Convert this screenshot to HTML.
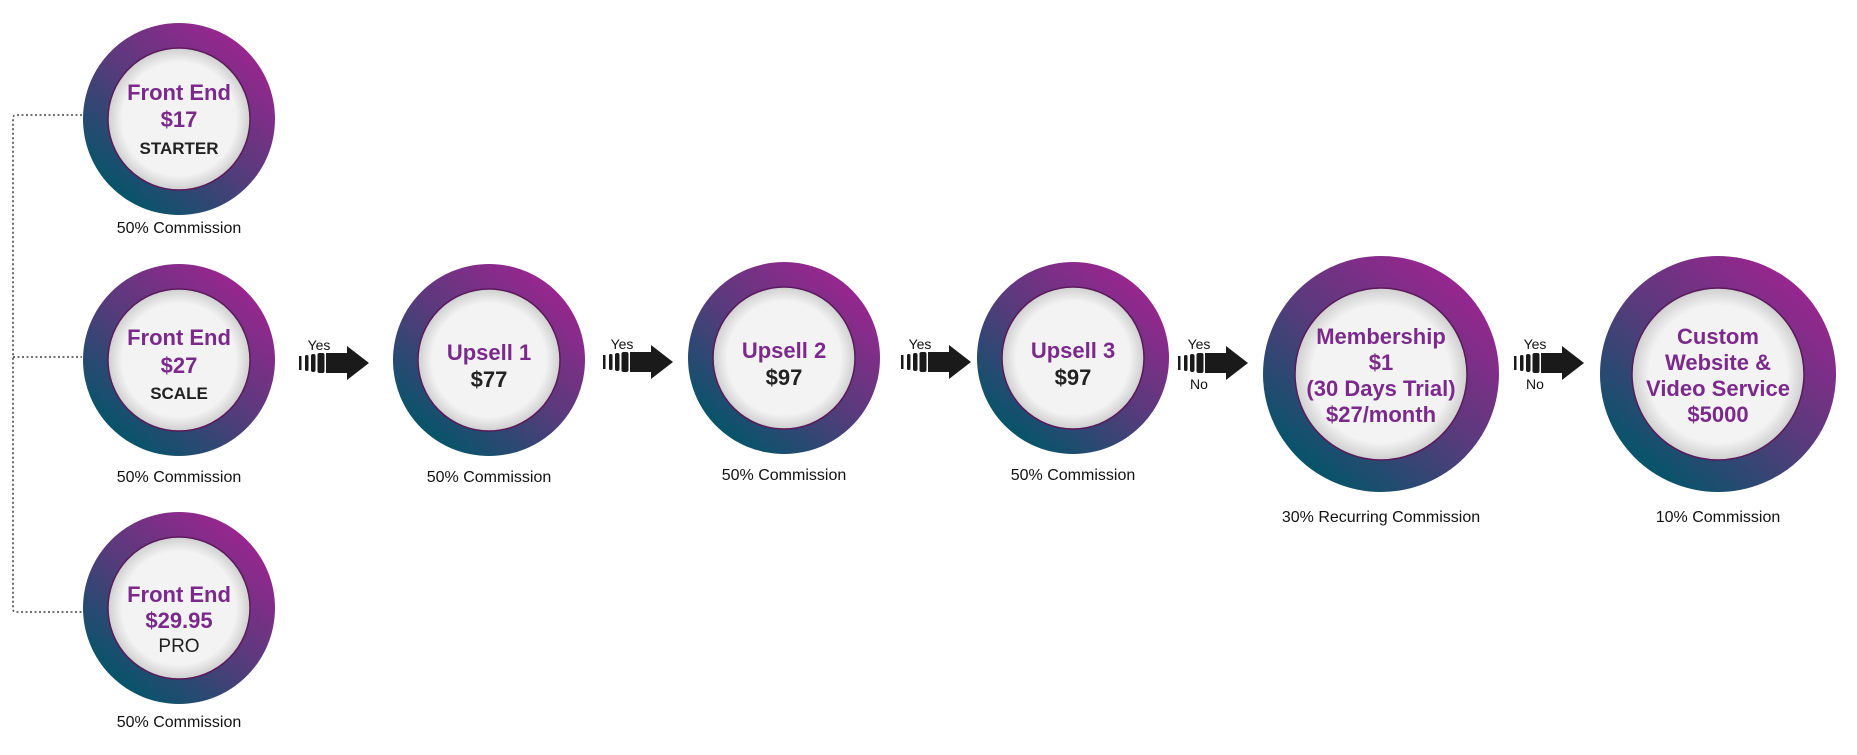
<!DOCTYPE html>
<html><head><meta charset="utf-8"><style>
html,body{margin:0;padding:0;background:#fff;}
svg{display:block;}
text{font-family:"Liberation Sans",sans-serif;text-anchor:middle;}
.t{fill:#7b2a8c;font-weight:bold;font-size:22px;}
.k{fill:#222;font-weight:bold;font-size:17px;}
.d{fill:#222;font-weight:bold;font-size:22px;}
.c{fill:#111;font-size:16px;}
.y{fill:#111;font-size:14px;}
</style></head><body>
<svg width="1857" height="755" viewBox="0 0 1857 755" xmlns="http://www.w3.org/2000/svg">
<defs>
<linearGradient id="g" x1="0.85" y1="0.1" x2="0.2" y2="0.9">
<stop offset="0" stop-color="#9b2590"/><stop offset="0.5" stop-color="#5a3a7c"/><stop offset="1" stop-color="#07546a"/>
</linearGradient>
<radialGradient id="w" cx="0.5" cy="0.5" r="0.5">
<stop offset="0.8" stop-color="#f3f3f3"/><stop offset="1" stop-color="#cfcfcf"/>
</radialGradient>
<g id="arr">
<rect x="0" y="-7" width="2.5" height="14" fill="#1a1a1a"/>
<rect x="6" y="-8" width="3.5" height="16" rx="1.5" fill="#1a1a1a"/>
<rect x="12" y="-9" width="4.5" height="18" rx="2" fill="#1a1a1a"/>
<rect x="18.5" y="-10" width="7" height="20" rx="2" fill="#1a1a1a"/>
<polygon points="27,-10 48,-10 48,-17 70,0 48,17 48,10 27,10" fill="#1a1a1a"/>
</g>
</defs>
<path d="M82 115 H16 Q13 115 13 118 V609 Q13 612 16 612 H82 M13 357 H82" fill="none" stroke="#444" stroke-width="1.6" stroke-dasharray="2,2.5"/>

<circle cx="179" cy="119" r="96" fill="url(#g)"/><circle cx="179" cy="119" r="71" fill="url(#w)" stroke="#5a1a5a" stroke-width="1.5"/>
<text class="t" x="179" y="100">Front End</text><text class="t" x="179" y="127">$17</text><text class="k" x="179" y="154">STARTER</text>
<text class="c" x="179" y="233">50% Commission</text>

<circle cx="179" cy="360" r="96" fill="url(#g)"/><circle cx="179" cy="360" r="71" fill="url(#w)" stroke="#5a1a5a" stroke-width="1.5"/>
<text class="t" x="179" y="345">Front End</text><text class="t" x="179" y="373">$27</text><text class="k" x="179" y="399">SCALE</text>
<text class="c" x="179" y="482">50% Commission</text>

<circle cx="179" cy="608" r="96" fill="url(#g)"/><circle cx="179" cy="608" r="71" fill="url(#w)" stroke="#5a1a5a" stroke-width="1.5"/>
<text class="t" x="179" y="602">Front End</text><text class="t" x="179" y="628">$29.95</text><text class="k" x="179" y="652" style="font-weight:normal;font-size:19px">PRO</text>
<text class="c" x="179" y="727">50% Commission</text>

<circle cx="489" cy="360" r="96" fill="url(#g)"/><circle cx="489" cy="360" r="71" fill="url(#w)" stroke="#5a1a5a" stroke-width="1.5"/>
<text class="t" x="489" y="360">Upsell 1</text><text class="d" x="489" y="387">$77</text>
<text class="c" x="489" y="482">50% Commission</text>

<circle cx="784" cy="358" r="96" fill="url(#g)"/><circle cx="784" cy="358" r="71" fill="url(#w)" stroke="#5a1a5a" stroke-width="1.5"/>
<text class="t" x="784" y="358">Upsell 2</text><text class="d" x="784" y="385">$97</text>
<text class="c" x="784" y="480">50% Commission</text>

<circle cx="1073" cy="358" r="96" fill="url(#g)"/><circle cx="1073" cy="358" r="71" fill="url(#w)" stroke="#5a1a5a" stroke-width="1.5"/>
<text class="t" x="1073" y="358">Upsell 3</text><text class="d" x="1073" y="385">$97</text>
<text class="c" x="1073" y="480">50% Commission</text>

<circle cx="1381" cy="374" r="118" fill="url(#g)"/><circle cx="1381" cy="374" r="86" fill="url(#w)" stroke="#5a1a5a" stroke-width="1.5"/>
<text class="t" x="1381" y="344">Membership</text><text class="t" x="1381" y="370">$1</text><text class="t" x="1381" y="396">(30 Days Trial)</text><text class="t" x="1381" y="422">$27/month</text>
<text class="c" x="1381" y="522">30% Recurring Commission</text>

<circle cx="1718" cy="374" r="118" fill="url(#g)"/><circle cx="1718" cy="374" r="86" fill="url(#w)" stroke="#5a1a5a" stroke-width="1.5"/>
<text class="t" x="1718" y="344">Custom</text><text class="t" x="1718" y="370">Website &amp;</text><text class="t" x="1718" y="396">Video Service</text><text class="t" x="1718" y="422">$5000</text>
<text class="c" x="1718" y="522">10% Commission</text>

<use href="#arr" x="299" y="363"/><text class="y" x="319" y="350">Yes</text>
<use href="#arr" x="603" y="362"/><text class="y" x="622" y="349">Yes</text>
<use href="#arr" x="901" y="362"/><text class="y" x="920" y="349">Yes</text>
<use href="#arr" x="1178" y="363"/><text class="y" x="1199" y="349">Yes</text><text class="y" x="1199" y="389">No</text>
<use href="#arr" x="1514" y="363"/><text class="y" x="1535" y="349">Yes</text><text class="y" x="1535" y="389">No</text>
</svg>
</body></html>
